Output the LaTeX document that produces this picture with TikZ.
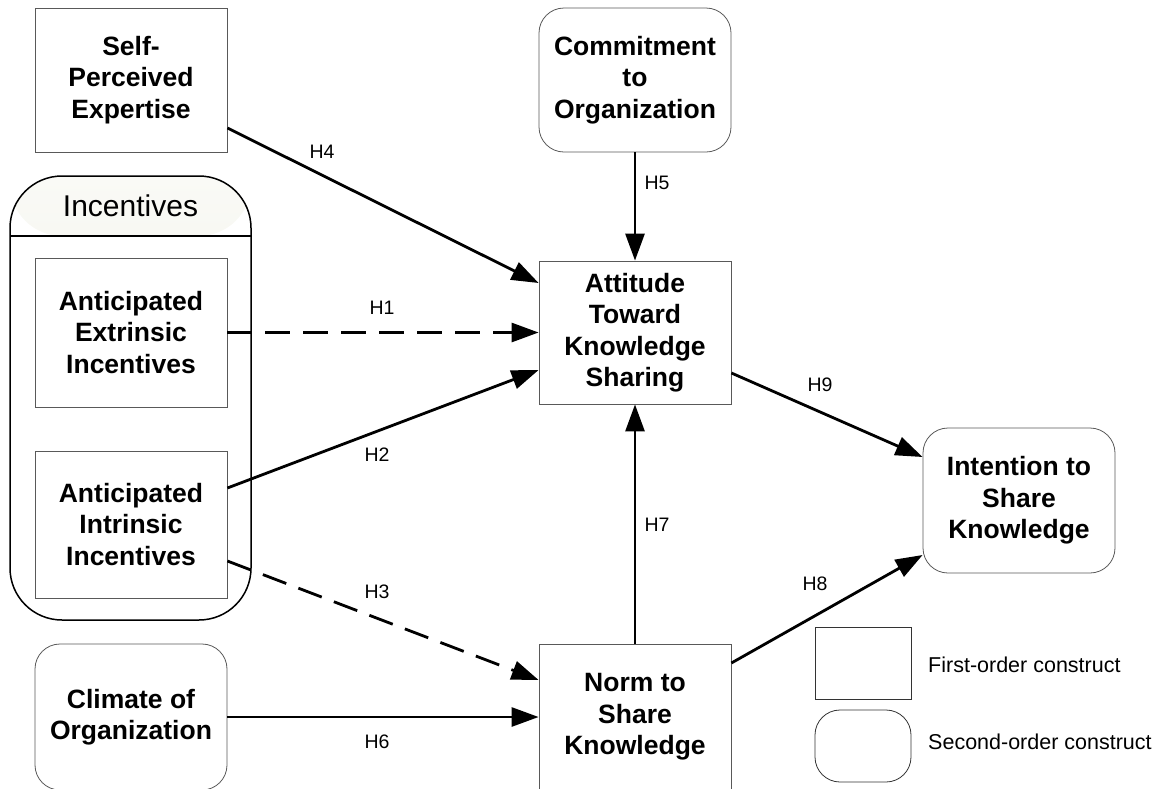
\documentclass[tikz,border=0pt]{standalone}
\usepackage{fontspec}
\setmainfont{Liberation Sans}
\usepackage{tikz}
\usetikzlibrary{arrows.meta}

\definecolor{headtop}{RGB}{250,250,246}
\definecolor{headbottom}{RGB}{232,235,222}

\tikzset{
	firstorder/.style={draw=black!65, line width=0.8pt, minimum width=192pt, minimum height=144pt, inner sep=0pt, align=center, font=\fontsize{26.5}{31.5}\selectfont\bfseries},
	secondorder/.style={firstorder, rounded corners=25pt},
	incgroup/.style={draw, line width=1.5pt, rounded corners=52pt, minimum width=241pt, minimum height=444pt,
		path picture={\shade[top color=headtop, bottom color=headbottom] (path picture bounding box.north west) rectangle ([yshift=-60pt]path picture bounding box.north east);
		\draw[line width=1.5pt] ([yshift=-60pt]path picture bounding box.north west) -- ([yshift=-60pt]path picture bounding box.north east);}},
	link/.style={line width=2.8pt, -{Triangle[length=27pt,width=19pt]}},
	dashlink/.style={link, dash pattern=on 25pt off 13pt},
	hlabel/.style={font=\fontsize{19.5}{22}\selectfont},
	legtext/.style={anchor=west, inner sep=0pt, font=\fontsize{21.5}{24}\selectfont}
}

\begin{document}
\begin{tikzpicture}[x=1pt, y=1pt]
	\useasboundingbox (0,0) rectangle (1154,-788);
	\node[incgroup] (incentives) at (130.5,-398) {};
	\node[font=\fontsize{30}{32}\selectfont] (inclabel) at (130.5,-206) {Incentives};
	\node[firstorder] (self) at (131,-80) {Self-\\Perceived\\Expertise};
	\node[secondorder] (commit) at (635,-80) {Commitment\\to\\Organization};
	\node[firstorder, minimum height=149pt] (extr) at (131,-332.5) {Anticipated\\Extrinsic\\Incentives};
	\node[firstorder, minimum height=147pt] (intr) at (131,-524.5) {Anticipated\\Intrinsic\\Incentives};
	\node[firstorder, minimum height=143pt] (att) at (635,-332.5) {Attitude\\Toward\\Knowledge\\Sharing};
	\node[secondorder, minimum height=145pt] (intent) at (1019,-500.5) {Intention to\\Share\\Knowledge};
	\node[secondorder, minimum height=146pt] (climate) at (131,-717) {Climate of\\Organization};
	\node[firstorder, minimum height=146pt] (norm) at (635,-717) {Norm to\\Share\\Knowledge};
	\node[firstorder, draw=black!80, minimum width=96pt, minimum height=72pt] (legfirst) at (863,-663) {};
	\node[secondorder, draw=black!80, minimum width=96pt, minimum height=72pt] (legsecond) at (863,-746) {};
	\node[legtext] (legfirsttext) at (928,-665) {First-order construct};
	\node[legtext] (legsecondtext) at (928,-742) {Second-order construct};
	\draw[link] ([yshift=-48pt]self.east) -- ([yshift=49.5pt]att.west);
	\draw[link] (commit) -- (att);
	\draw[dashlink] (extr) -- (att);
	\draw[link] ([yshift=36.5pt]intr.east) -- ([yshift=-37.5pt]att.west);
	\draw[dashlink] ([yshift=-36.5pt]intr.east) -- ([yshift=37pt]norm.west);
	\draw[link] (climate) -- (norm);
	\draw[link] (norm) -- (att);
	\draw[link] ([yshift=-40.5pt]att.east) -- ([yshift=43.5pt]intent.west);
	\draw[link] ([yshift=54pt]norm.east) -- ([yshift=-54.5pt]intent.west);
	\node[hlabel] (h4) at (322,-152) {H4};
	\node[hlabel] (h5) at (657,-183) {H5};
	\node[hlabel] (h1) at (382,-308) {H1};
	\node[hlabel] (h2) at (377,-455) {H2};
	\node[hlabel] (h3) at (377,-592) {H3};
	\node[hlabel] (h6) at (377,-742) {H6};
	\node[hlabel] (h7) at (657,-525) {H7};
	\node[hlabel] (h9) at (820,-385) {H9};
	\node[hlabel] (h8) at (815,-584) {H8};
\end{tikzpicture}
\end{document}
